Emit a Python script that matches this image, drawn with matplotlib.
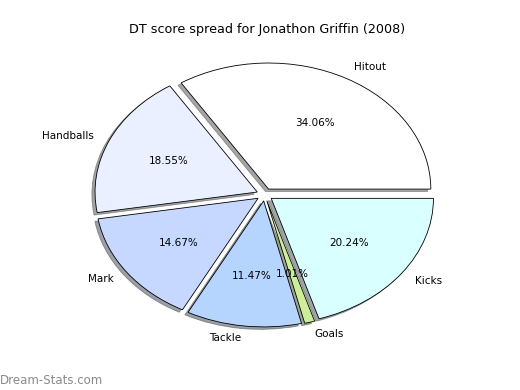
import matplotlib
matplotlib.use("Agg")
import matplotlib.pyplot as plt

labels = ["Hitout", "Handballs", "Mark", "Tackle", "Goals", "Kicks"]
shares = [34.06, 18.55, 14.67, 11.47, 1.01, 20.24]
colors = ["#FFFFFF", "#EAF0FF", "#C6D8FF", "#B5D5FF", "#CCEE99", "#D9FFFF"]

fig = plt.figure(figsize=(5.2, 3.9), dpi=100)
ax = fig.add_axes([0.119, 0.097, 0.78, 0.808])

wedges, texts, autotexts = ax.pie(
    shares, labels=labels, colors=colors, explode=[0.05] * len(shares),
    autopct="%1.2f%%", shadow={"ox": -0.014, "oy": -0.014},
    startangle=0,
    wedgeprops={"edgecolor": "black", "linewidth": 0.6},
    textprops={"fontsize": 7.5})
ax.set_aspect("auto")
ax.set_xlim(-1.25, 1.25)
ax.set_ylim(-1.25, 1.25)

fig.text(0.514, 0.925, "DT score spread for Jonathon Griffin (2008)",
         ha="center", va="center", fontsize=9.2)
fig.text(0.0, 0.025, "Dream-Stats.com", ha="left", va="center",
         fontsize=8.5, color="#8a8a8a")

fig.savefig("out.png", dpi=100)
